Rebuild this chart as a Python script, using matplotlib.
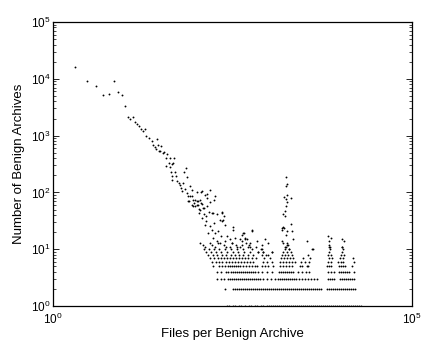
import numpy as np
import matplotlib
matplotlib.use('Agg')
import matplotlib.pyplot as plt
from matplotlib.ticker import NullLocator, LogLocator

plt.rcParams['font.family'] = ['Liberation Sans', 'DejaVu Sans']

# main curve, small archives
head_files = [2, 3, 4, 5, 6, 7, 8, 9, 10, 11, 12, 13, 14, 15, 16, 17, 18, 19]
head_counts = [16000, 9300, 7600, 5200, 5300, 9200, 5800, 5200, 3350, 2150,
               1950, 2100, 1750, 1620, 1490, 1290, 1200, 1310]

# scattered tail (files, count)
tail_pairs = [
    (20, 1000), (22, 904), (24, 800), (28, 857), (25, 671), (29, 690), (27, 570),
    (31, 532), (34, 485), (35, 511), (39, 466), (37, 407), (43, 407), (48, 396),
    (41, 332), (47, 332), (45, 310), (38, 289), (42, 282), (71, 271), (44, 226),
    (50, 226), (67, 233), (46, 192), (52, 192), (73, 188), (45, 164), (53, 157),
    (56, 147), (59, 137), (64, 147), (81, 132), (60, 120), (69, 115), (63, 105),
    (85, 109), (74, 98), (100, 100), (114, 100), (138, 95), (75, 85), (86, 85),
    (90, 75), (102, 70), (79, 72), (111, 75), (118, 63), (106, 61), (95, 57),
    (87, 61), (140, 58), (109, 51), (124, 53), (77, 70), (91, 65), (101, 61),
    (88, 57), (112, 50), (107, 43), (125, 41), (119, 35), (154, 67), (171, 44),
    (224, 43), (137, 31), (131, 27), (155, 26), (172, 29), (162, 22), (180, 19),
    (146, 19), (200, 21), (217, 17), (236, 33), (262, 17), (292, 15), (249, 14),
    (308, 13), (343, 16), (402, 15), (447, 19), (425, 12), (488, 13), (369, 11),
    (293, 11), (525, 11), (190, 14), (212, 13), (170, 16), (153, 13), (82, 85),
    (96, 75), (105, 70), (117, 65), (139, 80), (181, 85), (126, 53), (147, 46),
    (163, 43), (136, 38), (191, 41), (225, 31), (250, 27), (324, 22), (585, 22),
    (426, 18), (472, 16), (687, 14), (807, 10), (120, 105), (132, 91), (156, 112),
    (173, 75), (223, 46), (237, 38), (211, 33), (325, 25), (590, 21), (499, 15),
    (427, 14), (554, 13), (556, 11), (723, 9), (849, 9), (926, 8), (1112, 9),
    (1532, 24), (26, 640), (30, 540), (32, 660), (450, 19), (470, 15), (897, 15),
    (997, 13), (810, 12), (3480, 14), (4140, 10), (6830, 17), (7380, 16),
    (7050, 14), (7060, 11), (10500, 15), (11300, 14), (10510, 11),
]

# spike near 1700 files
spike_pairs = [
    (1742, 188), (1799, 143), (1745, 128), (1800, 91), (1648, 83), (1746, 77),
    (2046, 80), (1801, 67), (1747, 57), (1702, 48), (1614, 42), (1703, 38),
    (2047, 28), (1615, 25), (1533, 22), (1665, 24), (1802, 21), (2112, 21),
    (1748, 18), (1534, 14), (2223, 15), (1616, 13), (1803, 12), (1704, 11),
    (1936, 10),
]

# archive sizes that occur only a few times (count -> files)
rows = {
    1: [265, 283, 321, 343, 390, 415, 472, 537, 573, 651, 694, 789, 841, 956, 1019,
        1087, 1159, 1236, 1318, 1405, 1498, 1597, 1703, 1815, 1936, 2064, 2201, 2346,
        2501, 2667, 2843, 3031, 3232, 3446, 3674, 3917, 4176, 4452, 4747, 5061, 5396,
        5753, 6134, 6540, 6972, 7434, 7926, 8450, 9009, 9605, 10240, 10918, 11640,
        12411, 13232, 14107, 15041, 16036, 17097, 18228, 19434],
    2: [249, 321, 343, 365, 390, 415, 443, 472, 504, 537, 573, 611, 651, 694, 740,
        789, 841, 897, 956, 1019, 1087, 1159, 1236, 1318, 1405, 1498, 1597, 1703,
        1815, 1936, 2064, 2201, 2346, 2501, 2667, 2843, 3031, 3232, 3446, 3674, 3917,
        4176, 4452, 4747, 5061, 5396, 6540, 6972, 7434, 7926, 8450, 9009, 9605,
        10240, 10918, 11640, 12411, 13232, 14107, 15041, 16036],
    3: [192, 219, 241, 274, 292, 311, 332, 354, 377, 402, 429, 457, 488, 520, 555,
        592, 631, 673, 717, 765, 841, 956, 1087, 1236, 1361, 1451, 1547, 1649, 1758,
        1875, 1999, 2131, 2273, 2423, 2667, 2936, 3232, 3557, 3917, 4311, 4747, 6755,
        7202, 7678, 8186, 9921, 10577, 11277, 12023, 12818, 13666, 14570, 15534],
    4: [192, 219, 257, 274, 301, 321, 343, 365, 390, 415, 443, 472, 504, 537, 573,
        611, 651, 716, 815, 956, 1122, 1405, 1498, 1597, 1703, 1815, 1936, 2064,
        2201, 2584, 2936, 3337, 3674, 6761, 7434, 8193, 9605, 10240, 10918, 11640,
        12411, 13232, 15554],
    5: [169, 205, 226, 249, 274, 292, 311, 332, 354, 377, 402, 443, 488, 537, 591,
        651, 694, 815, 897, 987, 1159, 1451, 1597, 1758, 1936, 2131, 2754, 2936,
        3446, 3563, 6540, 6972, 7434, 9605, 10240, 10918, 11640, 14589],
    6: [164, 186, 205, 226, 257, 283, 311, 343, 377, 415, 457, 504, 554, 611, 841,
        956, 1122, 1451, 1597, 1758, 1936, 2131, 2346, 2843, 3232, 3674, 6761, 7434,
        9311, 10240, 10918, 15554],
    7: [154, 175, 199, 219, 241, 265, 292, 321, 354, 390, 429, 472, 520, 591, 672,
        869, 1052, 1498, 1649, 1815, 1999, 2201, 3031, 3797, 6972, 7685, 9935,
        10918, 15041],
    8: [144, 169, 192, 226, 257, 301, 343, 390, 443, 520, 611, 815, 987, 1547, 1703,
        1875, 2131, 3563, 6761, 7434, 10240, 11293],
    9: [135, 159, 186, 219, 265, 321, 377, 457, 554, 716, 841, 1122, 1597, 1815,
        2064, 6972, 10592],
    10: [127, 149, 175, 205, 249, 301, 365, 443, 591, 789, 1703, 1936, 4048, 7208,
         10918],
    11: [131, 180, 257, 402, 672, 1758, 7208, 10592],
    12: [123, 164, 241, 354, 537, 1875, 6972],
    13: [111, 199, 311, 1815],
}

files = list(head_files) + [p[0] for p in tail_pairs] + [p[0] for p in spike_pairs]
counts = list(head_counts) + [p[1] for p in tail_pairs] + [p[1] for p in spike_pairs]
for c, xs in rows.items():
    files += xs
    counts += [c] * len(xs)

fig = plt.figure(figsize=(4.22, 3.41), dpi=100)
ax = fig.add_axes([0.1256, 0.1026, 0.8507, 0.8329])
ax.plot(files, counts, linestyle='none', marker='o', markersize=1.35,
        markeredgewidth=0, color='black')

ax.set_xscale('log')
ax.set_yscale('log')
ax.set_xlim(1, 1e5)
ax.set_ylim(1, 1e5)
ax.set_xticks([1, 1e5])
ax.xaxis.set_minor_locator(NullLocator())
ax.yaxis.set_major_locator(LogLocator(base=10, numticks=10))
ax.yaxis.set_minor_locator(LogLocator(base=10, subs=np.arange(2, 10), numticks=10))
ax.tick_params(axis='y', which='both', direction='in', left=True, right=True,
               labelsize=8.5, pad=2)
ax.tick_params(axis='y', which='major', length=4, width=0.6)
ax.tick_params(axis='y', which='minor', length=2, width=0.5)
ax.tick_params(axis='x', which='both', direction='in', length=0, labelsize=8.5, pad=4)
for s in ax.spines.values():
    s.set_linewidth(0.9)

ax.set_xlabel('Files per Benign Archive', fontsize=9.5, labelpad=1)
ax.set_ylabel('Number of Benign Archives', fontsize=9.5, labelpad=4)

fig.savefig('out.png', dpi=100)
